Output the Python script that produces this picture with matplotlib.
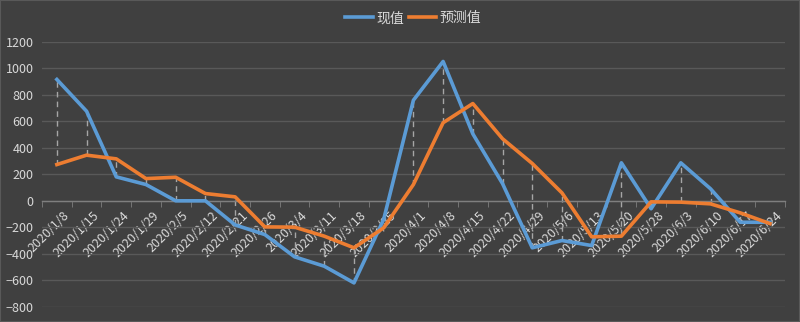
import matplotlib.pyplot as plt
import matplotlib.transforms as mtransforms
import numpy as np

plt.rcParams['font.family'] = ['Noto Sans CJK SC', 'DejaVu Sans']

dates = ['2020/1/8', '2020/1/15', '2020/1/24', '2020/1/29', '2020/2/5', '2020/2/12',
         '2020/2/21', '2020/2/26', '2020/3/4', '2020/3/11', '2020/3/18', '2020/3/25',
         '2020/4/1', '2020/4/8', '2020/4/15', '2020/4/22', '2020/4/29', '2020/5/6',
         '2020/5/13', '2020/5/20', '2020/5/28', '2020/6/3', '2020/6/10', '2020/6/17',
         '2020/6/24']
actual = [917, 677, 181, 123, 0, 0, -182, -255, -423, -494, -620, -140,
          760, 1053, 506, 130, -355, -300, -338, 287, -60, 287, 91, -162, -162]
predicted = [274, 345, 317, 168, 178, 55, 30, -197, -199, -267, -355, -204,
             123, 590, 735, 469, 282, 60, -272, -267, -8, -10, -23, -91, -172]

BG = '#404040'
TXT = '#d9d9d9'
GRID = '#595959'

fig = plt.figure(figsize=(8, 3.22), dpi=100, facecolor=BG)
ax = fig.add_axes([0.0525, 0.0475, 0.9285, 0.8221], facecolor=BG)

x = np.arange(len(dates))
lo = np.minimum(actual, predicted)
hi = np.maximum(actual, predicted)

# high-low lines between the two series
ax.vlines(x, lo, hi, colors='#a6a6a6', linestyles=(0, (4, 3)), linewidth=1, zorder=2)

ax.plot(x, actual, color='#5b9bd5', linewidth=2.6, label='现值', zorder=3,
        solid_joinstyle='round')
ax.plot(x, predicted, color='#ed7d31', linewidth=2.6, label='预测值', zorder=3,
        solid_joinstyle='round')

ax.set_xlim(-0.5, len(dates) - 0.5)
ax.set_ylim(-800, 1200)
ax.set_yticks(np.arange(-800, 1201, 200))
ax.yaxis.grid(True, color=GRID, linewidth=1)
ax.set_axisbelow(True)
ax.tick_params(axis='y', length=0, labelsize=9, colors=TXT, pad=6)

for side in ['left', 'right', 'top']:
    ax.spines[side].set_visible(False)
ax.spines['bottom'].set_position(('data', 0))
ax.spines['bottom'].set_color('#7f7f7f')
ax.spines['bottom'].set_linewidth(1)

ax.set_xticks(x)
ax.set_xticklabels(dates, rotation=45, ha='right', va='top',
                   rotation_mode='anchor', fontsize=9, color=TXT)
ax.set_xticks(np.arange(-0.5, len(dates), 1), minor=True)
ax.tick_params(axis='x', which='major', length=0, pad=6)
ax.tick_params(axis='x', which='minor', length=4, color='#7f7f7f')
shift = mtransforms.ScaledTranslation(6 / 100, 0, fig.dpi_scale_trans)
for lbl in ax.get_xticklabels():
    lbl.set_transform(lbl.get_transform() + shift)

leg = ax.legend(loc='center', bbox_to_anchor=(0.5, 1.09), ncol=2, frameon=False,
                fontsize=10, handlelength=2.0, columnspacing=0.3, handletextpad=0.25)
for t in leg.get_texts():
    t.set_color(TXT)

fig.patches.append(plt.Rectangle((0, 0), 1, 1, transform=fig.transFigure, fill=False,
                                 edgecolor='#595959', linewidth=1.5))

fig.savefig('out.png', dpi=100, facecolor=BG)
